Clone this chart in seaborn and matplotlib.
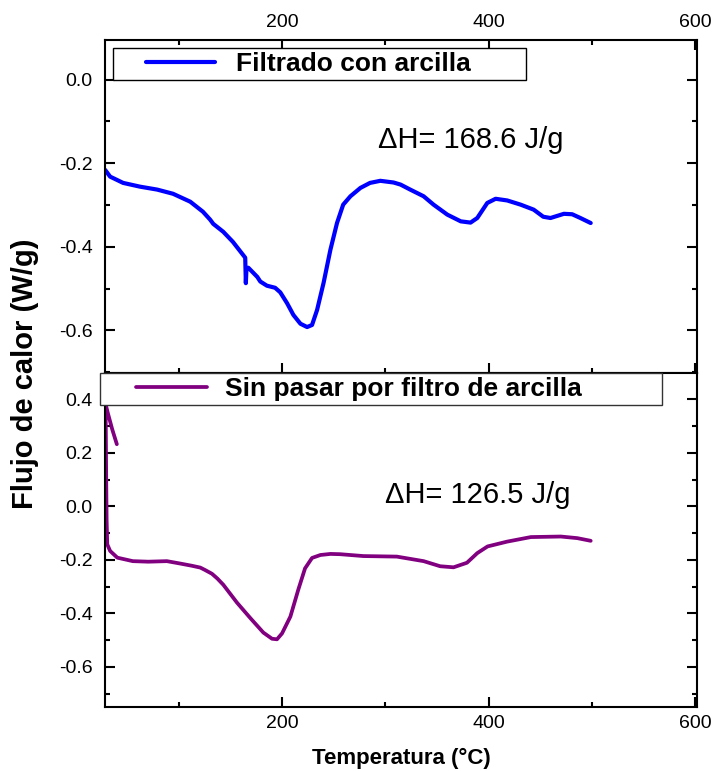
import matplotlib
matplotlib.use('Agg')
import matplotlib.pyplot as plt
import seaborn as sns
from matplotlib.ticker import FixedLocator, MultipleLocator
from matplotlib.legend_handler import HandlerLine2D

sns.set_theme(style='ticks')
plt.rcParams['font.family'] = ['Liberation Sans', 'DejaVu Sans']
plt.rcParams['axes.unicode_minus'] = False
plt.rcParams['text.color'] = 'black'
plt.rcParams['axes.labelcolor'] = 'black'
plt.rcParams['xtick.color'] = 'black'
plt.rcParams['ytick.color'] = 'black'

# ---------------- data ----------------
label_top = 'Filtrado con arcilla'
label_bot = 'Sin pasar por filtro de arcilla'
dh_top = '\u0394H= 168.6 J/g'
dh_bot = '\u0394H= 126.5 J/g'

temp_top = [28.2, 33, 45.6, 62, 78.6, 94, 110.7, 123, 130, 133, 142.7, 152, 164,
            164.6, 165.2, 167, 175.7, 178.6, 185, 193, 198, 204.6, 210.7, 217.5,
            224, 228.8, 233.7, 240, 246.6, 253, 259, 266, 275.7, 285, 295, 307.8,
            314.6, 324, 337, 346.6, 360, 373, 382.5, 389, 398.7, 406.8, 418, 431,
            443.7, 453, 460, 473, 481, 489, 499]
flow_top = [-0.216, -0.232, -0.247, -0.256, -0.263, -0.273, -0.292, -0.316, -0.335,
            -0.345, -0.364, -0.388, -0.426,
            -0.487, -0.452, -0.450, -0.472, -0.483, -0.493, -0.498, -0.509, -0.535,
            -0.563, -0.584,
            -0.592, -0.587, -0.551, -0.486, -0.407, -0.343, -0.299, -0.279, -0.259,
            -0.247, -0.242, -0.246,
            -0.251, -0.263, -0.279, -0.299, -0.323, -0.339, -0.342, -0.331, -0.295,
            -0.285, -0.289, -0.299,
            -0.311, -0.328, -0.331, -0.321, -0.322, -0.331, -0.343]

temp_bot = [39.5, 35, 31, 28.6, 28.4, 28.8, 29.2, 29.6, 30.2, 33, 40, 55, 70, 88,
            101, 112, 120.4, 125, 131.7, 137, 142.7, 156, 169, 181.6, 190, 194.8,
            199.7, 207.8, 215.5, 222, 228.8, 236.9, 246.6, 256, 278.6, 311, 337,
            353, 366, 379, 389, 399, 418, 441, 470, 486, 499]
flow_bot = [0.232, 0.288, 0.345, 0.382, 0.430, 0.300, 0.100, -0.050, -0.142, -0.167,
            -0.192, -0.205, -0.207, -0.205,
            -0.214, -0.222, -0.229, -0.238, -0.252, -0.270, -0.293, -0.360, -0.418,
            -0.472, -0.495, -0.497,
            -0.475, -0.412, -0.311, -0.232, -0.193, -0.182, -0.178, -0.179, -0.186,
            -0.188, -0.205,
            -0.224, -0.228, -0.211, -0.175, -0.150, -0.132, -0.115, -0.113, -0.119,
            -0.129]

xticks_major = [200, 400, 600]
xticks_minor = [100, 300, 500]
yticks_top = [0.0, -0.2, -0.4, -0.6]
yticks_bot = [0.4, 0.2, 0.0, -0.2, -0.4, -0.6]

# ---------------- figure ----------------
fig = plt.figure(figsize=(7.17, 7.71), dpi=100)
ax1 = fig.add_axes([0.1464, 0.5162, 0.8256, 0.4319])
ax2 = fig.add_axes([0.1464, 0.0830, 0.8256, 0.4332])

sns.lineplot(x=temp_top, y=flow_top, ax=ax1, color='#0000ff', linewidth=3.0,
             sort=False, estimator=None, legend=False)
sns.lineplot(x=temp_bot, y=flow_bot, ax=ax2, color='#800080', linewidth=2.7,
             sort=False, estimator=None, legend=False)
for ln in ax1.lines + ax2.lines:
    ln.set_solid_joinstyle('round')
    ln.set_solid_capstyle('round')

for ax, yt in ((ax1, yticks_top), (ax2, yticks_bot)):
    ax.set_xlim(28, 602)
    ax.xaxis.set_major_locator(FixedLocator(xticks_major))
    ax.xaxis.set_minor_locator(FixedLocator(xticks_minor))
    ax.yaxis.set_major_locator(FixedLocator(yt))
    ax.yaxis.set_minor_locator(MultipleLocator(0.1))
    ax.set_yticklabels([f'{v:.1f}' for v in yt])
    ax.set_xticklabels([str(v) for v in xticks_major])
    for s in ax.spines.values():
        s.set_linewidth(1.5)
        s.set_color('black')
        s.set_visible(True)
    ax.tick_params(which='major', direction='in', length=7, width=1.5,
                   color='black', labelcolor='black', labelsize=14)
    ax.tick_params(which='minor', direction='in', length=3.5, width=1.5,
                   color='black')
    ax.tick_params(axis='y', which='both', left=True, right=True,
                   labelleft=True, labelright=False, pad=9)
    ax.set_xlabel('')
    ax.set_ylabel('')
    ax.set_facecolor('white')

ax1.set_ylim(-0.702, 0.095)
ax2.set_ylim(-0.75, 0.498)

ax1.tick_params(axis='x', which='both', top=True, bottom=True,
                labeltop=True, labelbottom=False, pad=6.5)
ax2.tick_params(axis='x', which='both', top=False, bottom=True,
                labeltop=False, labelbottom=True, pad=5.5)

# legends
leg1 = ax1.legend(handles=[ax1.lines[0]], labels=[label_top], loc='upper left',
                  bbox_to_anchor=(0.0135, 0.0, 0.6975, 0.976), mode='expand',
                  borderaxespad=0, borderpad=0.15, handlelength=3.7,
                  handletextpad=0.8, fancybox=False, framealpha=1,
                  edgecolor='black', prop={'size': 19, 'weight': 'bold'},
                  labelcolor='black',
                  handler_map={ax1.lines[0]: HandlerLine2D(xpad=1.1)})
leg1.get_frame().set_linewidth(1.0)

leg2 = ax2.legend(handles=[ax2.lines[0]], labels=[label_bot], loc='upper left',
                  bbox_to_anchor=(-0.0084, 0.0, 0.9494, 1.0), mode='expand',
                  borderaxespad=0, borderpad=0.15, handlelength=3.9,
                  handletextpad=0.68, fancybox=False, framealpha=1,
                  edgecolor='#333333', prop={'size': 19, 'weight': 'bold'},
                  labelcolor='black',
                  handler_map={ax2.lines[0]: HandlerLine2D(xpad=1.2)})
leg2.get_frame().set_linewidth(1.0)

# annotations
ax1.text(0.461, 0.70, dh_top, transform=ax1.transAxes, ha='left', va='center',
         fontsize=21, color='black')
ax2.text(0.473, 0.635, dh_bot, transform=ax2.transAxes, ha='left', va='center',
         fontsize=21, color='black')

fig.text(25 / 717, 1 - 374 / 771, 'Flujo de calor (W/g)', rotation=90,
         ha='center', va='center', fontsize=21, fontweight='bold', color='black')
fig.text(401 / 717, 1 - 758 / 771, 'Temperatura (\u00b0C)', ha='center',
         va='center', fontsize=16, fontweight='bold', color='black')

fig.savefig('out.png', dpi=100, facecolor='white')
